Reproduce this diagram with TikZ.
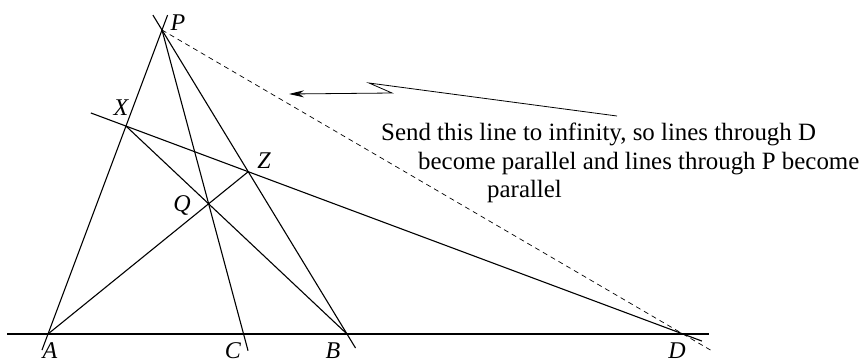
\documentclass[tikz,border=0pt]{standalone}
\usepackage{fontspec}
\setmainfont{Liberation Serif}
\usetikzlibrary{calc,arrows.meta}
\begin{document}
\begin{tikzpicture}[x=1pt,y=-1pt,
  geo/.style={line width=1.1pt,black},
  far/.style={line width=0.7pt,dash pattern=on 5pt off 4pt},
  pointer/.style={line width=0.8pt,-{Stealth[length=15pt,width=7pt]}},
  lbl/.style={anchor=base,inner sep=0pt,font=\fontsize{24}{28}\selectfont\itshape},
  txt/.style={anchor=base west,inner sep=0pt,font=\fontsize{24.9}{29}\selectfont}]
\useasboundingbox (0,0) rectangle (861,360);
% points
\coordinate (A) at (48,334);
\coordinate (B) at (347,334);
\coordinate (D) at (683,334);
\coordinate (P) at (162,30);
\coordinate (X) at ($(A)!0.684!(P)$);
\coordinate (Z) at (intersection of X--D and P--B);
\coordinate (Q) at (intersection of A--Z and X--B);
\coordinate (C) at (intersection of P--Q and A--B);
\coordinate (L1) at (7,334);
\coordinate (L2) at (709,334);
% line ends
\coordinate (PAt) at ($(A)!1.049!(P)$);
\coordinate (PAb) at ($(A)!-0.053!(P)$);
\coordinate (PBt) at ($(B)!1.049!(P)$);
\coordinate (PBb) at ($(P)!1.046!(B)$);
\coordinate (PCb) at ($(P)!1.055!(C)$);
\coordinate (XDs) at ($(D)!1.063!(X)$);
\coordinate (XDe) at ($(X)!1.034!(D)$);
\coordinate (PDe) at ($(P)!1.056!(D)$);
% lines
\draw[geo] (L1) -- (L2);
\draw[geo] (PAb) -- (PAt);
\draw[geo] (PBt) -- (PBb);
\draw[geo] (P) -- (PCb);
\draw[geo] (XDs) -- (XDe);
\draw[geo] (X) -- (B);
\draw[geo] (A) -- (Z);
\draw[far] (P) -- (PDe);
% zigzag arrow
\coordinate (W1) at (617,116);
\coordinate (W2) at (369,83);
\coordinate (W3) at (392,93);
\coordinate (W4) at (289,94);
\draw[pointer] (W1) -- (W2) -- (W3) -- (W4);
% labels
\node[lbl] (lP) at (178,30) {P};
\node[lbl] (lX) at (121,115) {X};
\node[lbl] (lZ) at (264,168) {Z};
\node[lbl] (lQ) at (182,211) {Q};
\node[lbl] (lA) at (50,358) {A};
\node[lbl] (lC) at (233,358) {C};
\node[lbl] (lB) at (333,358) {B};
\node[lbl] (lD) at (677,358) {D};
% text
\node[txt] (t1) at (381,140) {Send this line to infinity, so lines through D};
\node[txt] (t2) at (418,169) {become parallel and lines through P become};
\node[txt] (t3) at (487,197) {parallel};
\end{tikzpicture}
\end{document}
